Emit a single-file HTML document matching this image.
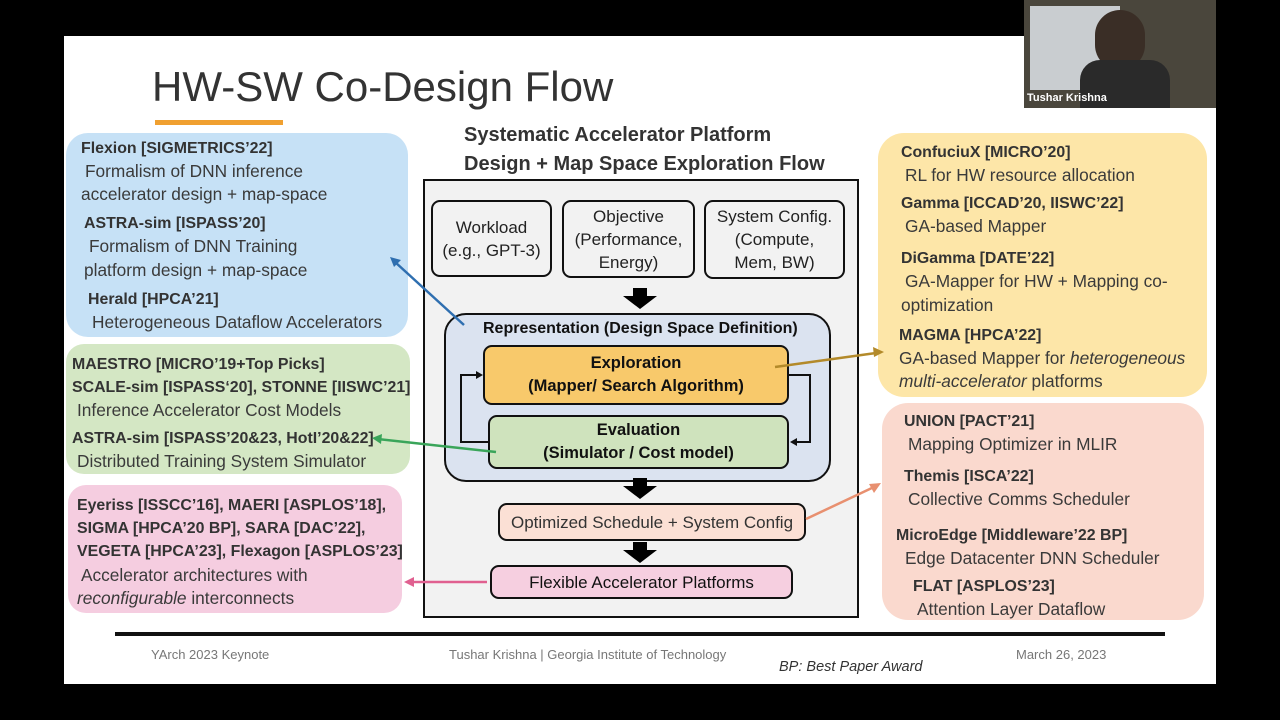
<!DOCTYPE html>
<html><head><meta charset="utf-8"><style>
body{margin:0;width:1280px;height:720px;background:#000;position:relative;overflow:hidden;font-family:"Liberation Sans",sans-serif;color:#333}
.a{position:absolute;white-space:nowrap}
.b{font-weight:bold}
.box{position:absolute;border-radius:22px}
.t{font-size:17.3px;line-height:19px;color:#3a3a3a}
.t.b{font-size:15.9px;color:#333}
.n{position:absolute;border:2px solid #111;border-radius:9px;text-align:center;font-size:17px;color:#222;box-sizing:border-box;display:flex;align-items:center;justify-content:center;line-height:23px}
</style></head><body>
<div class="a" style="left:64px;top:36px;width:1152px;height:648px;background:#fff"></div>
<div class="a" style="left:1024px;top:0;width:192px;height:108px;background:#4a463c"></div>
<div class="a" style="left:1030px;top:6px;width:90px;height:84px;background:#c9cdd0"></div>
<div class="a" style="left:1095px;top:10px;width:50px;height:60px;background:#3a2e26;border-radius:25px"></div>
<div class="a" style="left:1080px;top:60px;width:90px;height:48px;background:#2a2a2a;border-radius:20px 20px 0 0"></div>
<div class="a" style="left:1027px;top:92px;font-size:11px;color:#fff;font-weight:bold">Tushar Krishna</div>

<div class="a" style="left:152px;top:63px;font-size:42px;color:#333">HW-SW Co-Design Flow</div>
<div class="a" style="left:155px;top:120px;width:128px;height:5px;background:#f0a030"></div>

<div class="a b" style="left:464px;top:121px;font-size:20px;line-height:29px;color:#333">Systematic Accelerator Platform<br>Design + Map Space Exploration Flow</div>

<!-- left boxes -->
<div class="box" style="left:66px;top:133px;width:342px;height:204px;background:#c6e1f6"></div>
<div class="a t b" style="left:81px;top:139px">Flexion [SIGMETRICS’22]</div>
<div class="a t" style="left:85px;top:162px">Formalism of DNN inference</div>
<div class="a t" style="left:81px;top:185px">accelerator design + map-space</div>
<div class="a t b" style="left:84px;top:214px">ASTRA-sim [ISPASS’20]</div>
<div class="a t" style="left:89px;top:237px">Formalism of DNN Training</div>
<div class="a t" style="left:84px;top:261px">platform design + map-space</div>
<div class="a t b" style="left:88px;top:290px">Herald [HPCA’21]</div>
<div class="a t" style="left:92px;top:313px">Heterogeneous Dataflow Accelerators</div>

<div class="box" style="left:66px;top:344px;width:344px;height:130px;background:#d4e7c4;border-radius:18px"></div>
<div class="a t b" style="left:72px;top:355px">MAESTRO [MICRO’19+Top Picks]</div>
<div class="a t b" style="left:72px;top:378px">SCALE-sim [ISPASS‘20], STONNE [IISWC’21]</div>
<div class="a t" style="left:77px;top:401px">Inference Accelerator Cost Models</div>
<div class="a t b" style="left:72px;top:429px">ASTRA-sim [ISPASS’20&amp;23, HotI’20&amp;22]</div>
<div class="a t" style="left:77px;top:452px">Distributed Training System Simulator</div>

<div class="box" style="left:68px;top:485px;width:334px;height:128px;background:#f5cde0;border-radius:18px"></div>
<div class="a t b" style="left:77px;top:496px">Eyeriss [ISSCC’16], MAERI [ASPLOS’18],</div>
<div class="a t b" style="left:77px;top:519px">SIGMA [HPCA’20 BP], SARA [DAC’22],</div>
<div class="a t b" style="left:77px;top:542px">VEGETA [HPCA’23], Flexagon [ASPLOS’23]</div>
<div class="a t" style="left:81px;top:566px">Accelerator architectures with</div>
<div class="a t" style="left:77px;top:589px"><i>reconfigurable</i> interconnects</div>

<!-- right boxes -->
<div class="box" style="left:878px;top:133px;width:329px;height:264px;background:#fde6a8;border-radius:26px"></div>
<div class="a t b" style="left:901px;top:143px">ConfuciuX [MICRO’20]</div>
<div class="a t" style="left:905px;top:166px">RL for HW resource allocation</div>
<div class="a t b" style="left:901px;top:194px">Gamma [ICCAD’20, IISWC’22]</div>
<div class="a t" style="left:905px;top:217px">GA-based Mapper</div>
<div class="a t b" style="left:901px;top:249px">DiGamma [DATE’22]</div>
<div class="a t" style="left:905px;top:272px">GA-Mapper for HW + Mapping co-</div>
<div class="a t" style="left:901px;top:296px">optimization</div>
<div class="a t b" style="left:899px;top:326px">MAGMA [HPCA’22]</div>
<div class="a t" style="left:899px;top:349px">GA-based Mapper for <i>heterogeneous</i></div>
<div class="a t" style="left:899px;top:372px"><i>multi-accelerator</i> platforms</div>

<div class="box" style="left:882px;top:403px;width:322px;height:217px;background:#fad9ce;border-radius:26px"></div>
<div class="a t b" style="left:904px;top:412px">UNION [PACT’21]</div>
<div class="a t" style="left:908px;top:435px">Mapping Optimizer in MLIR</div>
<div class="a t b" style="left:904px;top:467px">Themis [ISCA’22]</div>
<div class="a t" style="left:908px;top:490px">Collective Comms Scheduler</div>
<div class="a t b" style="left:896px;top:526px">MicroEdge [Middleware’22 BP]</div>
<div class="a t" style="left:905px;top:549px">Edge Datacenter DNN Scheduler</div>
<div class="a t b" style="left:913px;top:577px">FLAT [ASPLOS’23]</div>
<div class="a t" style="left:917px;top:600px">Attention Layer Dataflow</div>

<!-- center -->
<div class="a" style="left:423px;top:179px;width:432px;height:435px;background:#f2f2f2;border:2px solid #111"></div>
<div class="n" style="left:431px;top:200px;width:121px;height:77px">Workload<br>(e.g., GPT-3)</div>
<div class="n" style="left:562px;top:200px;width:133px;height:78px">Objective<br>(Performance,<br>Energy)</div>
<div class="n" style="left:704px;top:200px;width:141px;height:79px">System Config.<br>(Compute,<br>Mem, BW)</div>
<div class="a" style="left:444px;top:313px;width:387px;height:169px;background:#dbe3f0;border:2px solid #111;border-radius:22px;box-sizing:border-box"></div>
<div class="a b" style="left:483px;top:320px;font-size:16px;color:#111">Representation (Design Space Definition)</div>
<div class="n b" style="left:483px;top:345px;width:306px;height:60px;background:#f8c96b;font-size:16.5px;color:#111">Exploration<br>(Mapper/ Search Algorithm)</div>
<div class="n b" style="left:488px;top:415px;width:301px;height:54px;background:#cfe3bd;font-size:16.5px;color:#111">Evaluation<br>(Simulator / Cost model)</div>
<div class="n" style="left:498px;top:503px;width:308px;height:38px;background:#fbe0d5;color:#333">Optimized Schedule + System Config</div>
<div class="n" style="left:490px;top:565px;width:303px;height:34px;background:#f6cfe0;color:#111">Flexible Accelerator Platforms</div>

<svg class="a" style="left:0;top:0" width="1280" height="720">
<g fill="#000">
<polygon points="633,288 647,288 647,296 657,296 640,309 623,296 633,296"/>
<polygon points="633,478 647,478 647,486 657,486 640,499 623,486 633,486"/>
<polygon points="633,542 647,542 647,550 657,550 640,563 623,550 633,550"/>
</g>
<g stroke="#111" stroke-width="2" fill="none">
<polyline points="488,442 461,442 461,375 480,375"/>
<polyline points="789,375 810,375 810,442 793,442"/>
</g>
<polygon points="483,375 476,371 476,379" fill="#111"/>
<polygon points="790,442 797,438 797,446" fill="#111"/>
<g stroke-width="2.5" fill="none">
<line x1="464" y1="325" x2="395" y2="262" stroke="#2f6fb0"/>
<line x1="775" y1="367" x2="876" y2="353" stroke="#b38a2a"/>
<line x1="496" y1="452" x2="378" y2="439" stroke="#3aa55a"/>
<line x1="806" y1="519" x2="874" y2="487" stroke="#e89070"/>
<line x1="487" y1="582" x2="412" y2="582" stroke="#e06090"/>
</g>
<polygon points="390,257 401,260 394,267" fill="#2f6fb0"/>
<polygon points="884,352 873,347 874,357" fill="#b38a2a"/>
<polygon points="372,438 382,434 381,444" fill="#3aa55a"/>
<polygon points="881,483 869,484 874,493" fill="#e89070"/>
<polygon points="404,582 414,577 414,587" fill="#e06090"/>
</svg>

<div class="a" style="left:115px;top:632px;width:1050px;height:4px;background:#111"></div>
<div class="a" style="left:151px;top:647px;font-size:13px;color:#777">YArch 2023 Keynote</div>
<div class="a" style="left:449px;top:647px;font-size:13px;color:#777">Tushar Krishna | Georgia Institute of Technology</div>
<div class="a" style="left:1016px;top:647px;font-size:13px;color:#777">March 26, 2023</div>
<div class="a" style="left:779px;top:659px;font-size:14.5px;color:#333;font-style:italic">BP: Best Paper Award</div>
</body></html>
